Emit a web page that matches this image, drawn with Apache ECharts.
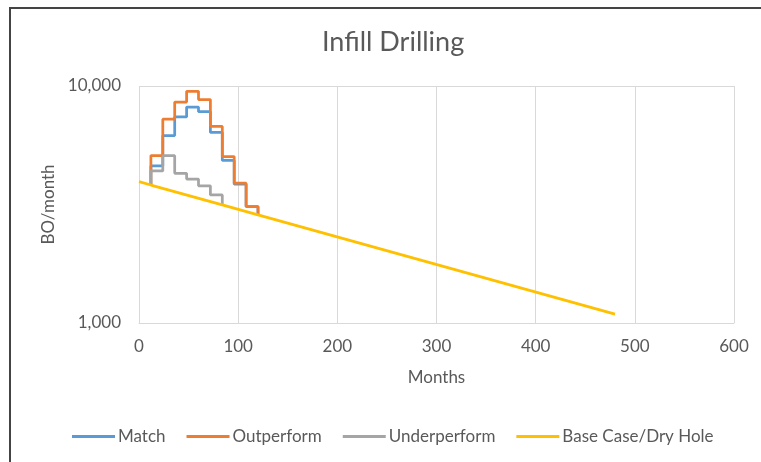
<!DOCTYPE html>
<html>
<head>
<meta charset="utf-8">
<script src="https://cdn.jsdelivr.net/npm/echarts@6/dist/echarts.min.js"></script>
<style>
html,body{margin:0;padding:0;background:#fff;}
#c{width:761px;height:462px;}
</style>
</head>
<body>
<div id="c"></div>
<script>
// Data
const xTicks = [0, 100, 200, 300, 400, 500, 600];
const yTicks = [1000, 10000];
const stepMonths = [12, 24, 36, 48, 60, 72, 84, 96, 108, 120];
const matchBO = [4600, 6180, 7400, 8150, 7790, 6370, 4850, 3850, 3100];
const outperformBO = [5090, 7240, 8560, 9500, 8770, 6750, 5040, 3890, 3100];
const underperformBO = [4380, 5080, 4280, 4050, 3790, 3470];
const baseMonths = [0, 12, 84, 120, 480];
const baseBO = [3950, 3820, 3150, 2860, 1090];
const seriesNames = ['Match', 'Outperform', 'Underperform', 'Base Case/Dry Hole'];
const colors = ['#5B9BD5', '#ED7D31', '#A5A5A5', '#FFC000'];

function baseAt(m) { return baseBO[baseMonths.indexOf(m)]; }
function stepData(vals, endMonth) {
  const d = [[stepMonths[0], baseAt(stepMonths[0])]];
  for (let i = 0; i < vals.length; i++) d.push([stepMonths[i], vals[i]]);
  d.push([endMonth, baseAt(endMonth)]);
  return d;
}
const baseData = baseMonths.map((m, i) => [m, baseBO[i]]);

const font = 'Lato';
const txt = '#595959';
const chart = echarts.init(document.getElementById('c'), null, {renderer: 'canvas'});
const lineSeries = (name, data, color) => ({
  name, type: 'line', data, step: name === seriesNames[3] ? false : 'end',
  symbol: 'none', showSymbol: false, lineStyle: {color, width: 2.75}, itemStyle: {color},
  animation: false
});
chart.setOption({
  animation: false,
  backgroundColor: '#fff',
  color: colors,
  title: {
    text: 'Infill Drilling', left: 317, top: 24,
    textStyle: {fontFamily: font, fontSize: 27, fontWeight: 'normal', color: txt}
  },
  graphic: [{
    type: 'rect', shape: {x: 10, y: 8, width: 800, height: 500},
    style: {fill: 'none', stroke: '#444', lineWidth: 2}, silent: true
  }],
  legend: {
    left: 67, top: 423, icon: 'rect', itemWidth: 43, itemHeight: 3, itemGap: 21,
    textStyle: {fontFamily: font, fontSize: 17, color: txt, padding: [0, 0, 0, -2]},
    data: seriesNames
  },
  grid: {left: 139, right: 27, top: 86, bottom: 139, containLabel: false},
  xAxis: {
    type: 'value', min: xTicks[0], max: xTicks[xTicks.length - 1], interval: 100,
    name: 'Months', nameLocation: 'middle', nameGap: 46,
    nameTextStyle: {fontFamily: font, fontSize: 17, color: txt},
    axisLine: {show: true, lineStyle: {color: '#D9D9D9', width: 1}},
    axisTick: {show: false},
    axisLabel: {fontFamily: font, fontSize: 17, color: txt, margin: 15},
    splitLine: {show: true, lineStyle: {color: '#D9D9D9', width: 1}}
  },
  yAxis: {
    type: 'log', logBase: 10, min: yTicks[0], max: yTicks[1],
    name: 'BO/month', nameLocation: 'middle', nameGap: 78,
    nameTextStyle: {fontFamily: font, fontSize: 17, color: txt},
    axisLine: {show: false},
    axisTick: {show: false},
    axisLabel: {fontFamily: font, fontSize: 17, color: txt, margin: 18,
      formatter: v => Number(v).toLocaleString('en-US')},
    splitLine: {show: true, lineStyle: {color: '#D9D9D9', width: 1}}
  },
  series: [
    lineSeries(seriesNames[0], stepData(matchBO, 120), colors[0]),
    lineSeries(seriesNames[1], stepData(outperformBO, 120), colors[1]),
    lineSeries(seriesNames[2], stepData(underperformBO, 84), colors[2]),
    lineSeries(seriesNames[3], baseData, colors[3])
  ]
});
</script>
</body>
</html>
